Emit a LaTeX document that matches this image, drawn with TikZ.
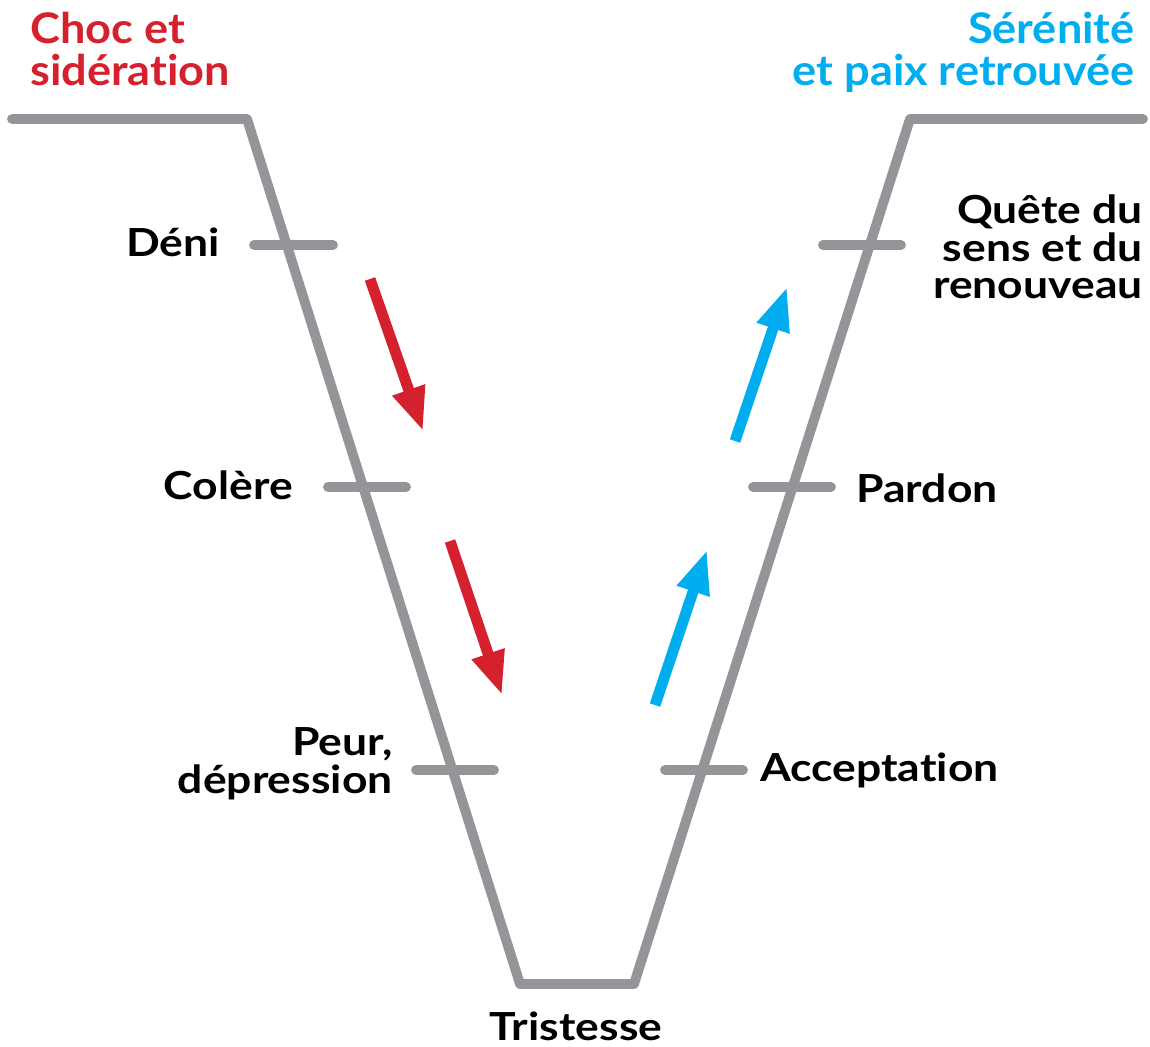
\documentclass[tikz,border=0pt]{standalone}
\usepackage{fontspec}
\setmainfont[FakeStretch=1.15, Ligatures=NoCommon]{Lato}
\newfontfamily\headfont[FakeStretch=1.07, Ligatures=NoCommon]{Lato}
\usetikzlibrary{arrows.meta}
\definecolor{vGrey}{RGB}{148,149,153}
\definecolor{vRed}{RGB}{213,33,45}
\definecolor{vBlue}{RGB}{0,173,238}
\tikzset{
  curve/.style={vGrey, line width=5.6pt, line cap=round, line join=round},
  tick/.style={vGrey, line width=5.6pt, line cap=round},
  down/.style={vRed, line width=6.2pt, -{Triangle[length=25pt, width=18pt]}, shorten >=-2pt},
  up/.style={vBlue, line width=6.2pt, -{Triangle[length=25pt, width=18pt]}, shorten >=-2pt},
  stage/.style={font=\fontsize{22}{21.5}\selectfont\bfseries, inner sep=0pt},
  head/.style={font=\headfont\fontsize{24}{23.8}\selectfont\bfseries, inner sep=0pt}
}
\begin{document}
\begin{tikzpicture}[x=0.02cm, y=-0.02cm]
\useasboundingbox (0,0) rectangle (1150,1046);
% the V curve
\coordinate (tl) at (12,119);
\coordinate (tlc) at (247,119);
\coordinate (bl) at (520,984);
\coordinate (br) at (634,984);
\coordinate (trc) at (910,119);
\coordinate (tr) at (1143,119);
\draw[curve] (tl) -- (tlc) -- (bl) -- (br) -- (trc) -- (tr);
% ticks on the way down
\coordinate (deniA) at (254,245);   \coordinate (deniB) at (333,245);
\coordinate (colA) at (328,487);    \coordinate (colB) at (406,487);
\coordinate (peurA) at (416,770);   \coordinate (peurB) at (494,770);
\draw[tick] (deniA) -- (deniB);
\draw[tick] (colA) -- (colB);
\draw[tick] (peurA) -- (peurB);
% ticks on the way up
\coordinate (accA) at (665,770);    \coordinate (accB) at (743,770);
\coordinate (parA) at (753,487);    \coordinate (parB) at (831,487);
\coordinate (queA) at (823,245);    \coordinate (queB) at (901,245);
\draw[tick] (accA) -- (accB);
\draw[tick] (parA) -- (parB);
\draw[tick] (queA) -- (queB);
% arrows
\coordinate (r1s) at (370,279); \coordinate (r1e) at (422,428);
\coordinate (r2s) at (450,541); \coordinate (r2e) at (501,692);
\coordinate (b1s) at (655,705); \coordinate (b1e) at (706,553);
\coordinate (b2s) at (735,441); \coordinate (b2e) at (786,290);
\draw[down] (r1s) -- (r1e);
\draw[down] (r2s) -- (r2e);
\draw[up] (b1s) -- (b1e);
\draw[up] (b2s) -- (b2e);
% labels
\node[head, vRed, align=left, anchor=north west] (choc) at (30,12) {Choc et\\sidération};
\node[head, vBlue, align=right, anchor=north east] (serenite) at (1135,12) {Sérénité\\et paix retrouvée};
\node[stage, anchor=east] (deni) at (220,242) {Déni};
\node[stage, anchor=east] (colere) at (293,485) {Colère};
\node[stage, align=right, anchor=east] (peur) at (393,764) {Peur,\\dépression};
\node[stage, anchor=north] (tristesse) at (576,1011) {Tristesse};
\node[stage, anchor=west] (acceptation) at (760,770) {Acceptation};
\node[stage, anchor=west] (pardon) at (856,488) {Pardon};
\node[stage, align=right, anchor=east] (quete) at (1143,247) {Quête du\\sens et du\\renouveau};
\end{tikzpicture}
\end{document}
